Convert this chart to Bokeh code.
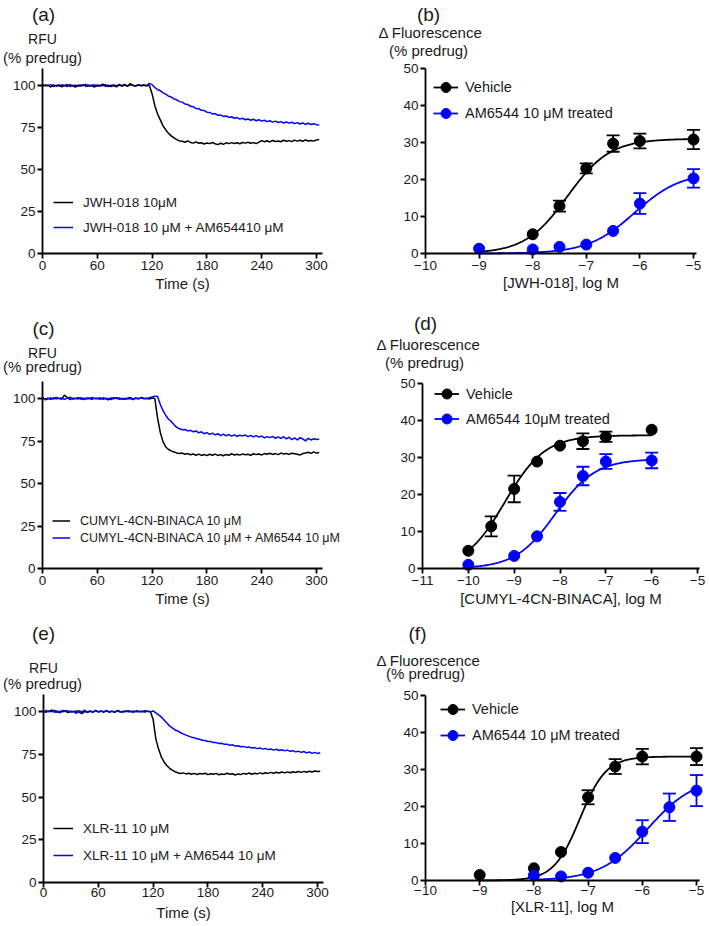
import numpy as np
from bokeh.plotting import figure
from bokeh.models import (Range1d, FixedTicker, Label, Legend, LegendItem, Whisker,
                          TeeHead, ColumnDataSource)
from bokeh.core.properties import value
from bokeh.layouts import column, row
from bokeh.embed import file_html
from bokeh.resources import INLINE

# ------------------------------------------------------------------ data
STEP = 3  # seconds between fluorescence reads

# (a) JWH-018
a_jwh = [100.5, 99.8, 100.2, 99.1, 100.4, 99.6, 100.3, 99.2, 99.9, 100.6,
         99.4, 100.1, 99.0, 100.3, 99.7, 100.5, 99.3, 100.2, 99.8, 99.1,
         100.4, 99.6, 100.9, 99.5, 100.2, 99.4, 100.0, 99.2, 100.3, 99.7,
         100.6, 99.5, 101.2, 100.0, 99.6, 100.4, 99.8, 100.2, 99.9, 100.1,
         95.0, 88.0, 83.0, 79.5, 76.0, 73.5, 71.5, 70.0, 68.8, 67.8, 67.0,
         66.8, 66.2, 67.0, 66.1, 65.7, 66.4, 65.6, 65.9, 65.2, 65.8,
         65.4, 66.1, 65.3, 64.8, 65.6, 65.0, 65.9, 65.4, 66.0, 65.5,
         65.9, 65.3, 66.1, 65.7, 66.2, 65.6, 66.0, 65.4, 66.3, 67.2,
         66.5, 67.1, 66.4, 67.3, 66.7, 67.0, 66.5, 67.4, 66.8, 67.2,
         66.6, 67.5, 66.9, 67.4, 66.8, 67.6, 67.0, 67.3, 66.9, 67.6,
         67.8]
a_jwh_am = [99.6, 100.3, 99.9, 100.5, 99.4, 100.1, 99.7, 100.4, 100.0, 99.3,
            100.6, 99.8, 100.2, 99.5, 100.3, 99.9, 100.7, 99.6, 100.1, 100.4,
            99.5, 100.2, 99.8, 100.5, 99.4, 100.1, 100.3, 99.7, 100.6, 99.9,
            100.2, 99.6, 100.4, 100.1, 99.8, 100.5, 100.0, 100.3, 99.9, 101.3,
            100.5, 98.8, 97.6, 96.9, 95.6, 94.9, 93.6, 93.1, 92.0, 91.5,
            90.4, 90.1, 89.0, 88.7, 87.6, 87.4, 86.3, 86.2, 85.2, 85.1,
            84.1, 84.0, 83.1, 83.3, 82.3, 82.5, 81.6, 81.9, 81.0, 81.4,
            80.5, 80.9, 80.0, 80.5, 79.6, 80.1, 79.3, 79.9, 79.0, 79.6,
            78.8, 79.3, 78.5, 79.0, 78.2, 78.8, 78.0, 78.5, 77.7, 78.3,
            77.6, 78.1, 77.3, 77.9, 77.1, 77.7, 76.9, 77.5, 76.8, 77.2,
            76.7, 76.5]

# (c) CUMYL-4CN-BINACA
c_cumyl = [100.3, 99.7, 100.1, 99.5, 100.4, 99.8, 100.2, 99.6, 102.0, 100.6,
           99.4, 100.2, 99.8, 100.5, 99.6, 100.1, 99.7, 100.3, 99.5, 100.2,
           99.9, 100.4, 99.6, 100.1, 99.2, 100.3, 99.8, 100.5, 99.6, 100.0,
           99.5, 100.2, 100.6, 99.7, 100.1, 99.8, 100.4, 99.9, 100.2, 99.7,
           100.3, 100.0,
           88.5, 80.0, 74.5, 71.5, 70.0, 69.2, 68.5, 68.0, 67.6, 67.9,
           67.2, 67.6, 66.9, 67.4, 66.6, 67.3, 66.5, 67.1, 66.4, 67.2,
           66.6, 67.3, 66.5, 67.0, 66.3, 67.1, 66.6, 67.5, 66.8, 67.2,
           66.7, 67.4, 66.9, 67.2, 66.6, 67.5, 67.0, 67.3, 66.8, 67.6,
           67.2, 67.8, 67.1, 67.6, 67.0, 67.9, 67.3, 67.7, 67.1, 67.8,
           67.5, 67.2, 66.8, 67.6, 67.9, 68.4, 67.7, 68.6, 67.9, 68.2]
c_cumyl_am = [100.6, 99.2, 99.8, 100.4, 99.6, 100.7, 99.9, 100.3, 99.5, 100.1,
              100.8, 99.6, 100.2, 99.7, 100.5, 99.4, 100.3, 99.8, 100.6, 99.9,
              100.2, 99.5, 100.4, 99.8, 100.1, 99.3, 100.5, 99.9, 100.3, 99.6,
              100.2, 99.7, 100.0, 99.4, 100.3, 99.8, 100.6, 100.1, 99.9, 100.5,
              100.9, 101.4, 101.2,
              96.5, 92.8, 90.0, 87.8, 86.5, 84.6, 83.0, 82.2, 81.6, 81.8,
              80.9, 81.3, 80.4, 80.9, 79.8, 80.4, 79.3, 79.9, 78.9, 79.6,
              78.6, 79.3, 78.2, 79.0, 78.0, 78.8, 77.9, 78.6, 77.7, 78.4,
              78.0, 78.5, 77.6, 78.3, 77.4, 78.2, 77.3, 77.9, 76.8, 77.6,
              77.0, 77.7, 76.6, 77.4, 76.5, 77.5, 76.3, 77.2, 75.8, 76.8,
              75.6, 77.0, 76.2, 75.1, 76.6, 75.6, 76.3, 75.9, 76.1]

# (e) XLR-11
e_xlr = [100.2, 99.6, 100.4, 99.9, 100.7, 99.5, 100.1, 99.8, 100.5, 99.3,
         100.2, 99.7, 100.4, 99.6, 98.8, 100.0, 99.7, 100.3, 99.5, 100.6,
         99.9, 100.2, 99.6, 100.4, 99.8, 100.1, 99.5, 100.6, 100.0, 99.7,
         100.3, 99.8, 100.2, 99.6, 100.4, 99.9, 100.1, 99.7, 100.2, 100.0,
         95.5, 84.0, 78.0, 73.5, 70.5, 68.4, 66.8, 65.7, 64.8, 64.2,
         63.7, 64.1, 63.5, 63.9, 63.3, 63.8, 63.2, 63.7, 63.4, 63.9,
         63.1, 63.6, 63.3, 63.8, 63.0, 63.5, 63.2, 63.9, 63.3, 63.6,
         62.9, 63.5, 63.2, 63.8, 63.4, 64.0, 63.3, 63.9, 63.5, 64.1,
         63.6, 64.2, 63.8, 64.4, 63.9, 64.5, 64.0, 64.6, 64.1, 64.7,
         64.2, 64.8, 64.3, 64.9, 64.4, 65.0, 64.5, 65.1, 64.6, 65.2,
         64.9, 65.1]
e_xlr_am = [99.4, 100.6, 99.8, 101.0, 99.5, 100.3, 99.2, 100.7, 99.9, 100.4,
            99.6, 100.2, 98.9, 100.5, 99.7, 100.8, 99.4, 100.1, 99.8, 100.5,
            99.6, 100.3, 99.9, 100.6, 99.5, 100.2, 99.8, 100.4, 99.6, 100.1,
            99.9, 100.5, 99.7, 100.3, 99.8, 100.2, 99.9, 100.4, 100.0, 99.8,
            100.3,
            99.2, 98.0, 96.8, 95.0, 93.3, 91.6, 90.4, 89.2, 88.6, 87.6,
            86.9, 86.2, 85.6, 85.0, 84.7, 84.0, 83.8, 83.2, 83.0, 82.5,
            82.4, 81.9, 81.8, 81.3, 81.4, 80.8, 80.9, 80.3, 80.5, 79.8,
            80.0, 79.4, 79.6, 79.0, 79.3, 78.6, 78.9, 78.3, 78.7, 78.0,
            78.4, 77.7, 78.1, 77.4, 77.9, 77.2, 77.6, 77.0, 77.4, 76.7,
            77.1, 76.4, 76.8, 76.1, 76.6, 75.8, 76.3, 75.5, 76.1, 75.4,
            75.9]

# (b) JWH-018 concentration-response
b_veh_x = [-8, -7.5, -7, -6.5, -6, -5]
b_veh_y = [5.2, 12.8, 23.0, 29.7, 30.4, 30.8]
b_veh_err = [0, 1.5, 1.35, 2.2, 2.0, 2.6]
b_trt_x = [-9, -8, -7.5, -7, -6.5, -6, -5]
b_trt_y = [1.3, 1.1, 1.8, 2.4, 6.1, 13.5, 20.3]
b_trt_err = [0, 0, 0, 0, 0, 2.8, 2.5]
b_veh_fit = [0.0, 31.0, -7.35, 1.1]   # bottom, top, logEC50, Hill slope
b_trt_fit = [0.0, 22.0, -6.1, 1.0]
b_veh_span = [-9, -5]
b_trt_span = [-9, -5]

# (d) CUMYL-4CN-BINACA concentration-response
d_veh_x = [-10, -9.5, -9, -8.5, -8, -7.5, -7, -6]
d_veh_y = [4.8, 11.4, 21.5, 28.9, 33.2, 34.4, 35.6, 37.5]
d_veh_err = [0, 2.7, 3.6, 0, 0, 2.1, 1.4, 0]
d_trt_x = [-10, -9, -8.5, -8, -7.5, -7, -6]
d_trt_y = [1.0, 3.4, 8.7, 18.0, 25.0, 28.9, 29.2]
d_trt_err = [0, 0, 0, 2.4, 2.5, 2.0, 2.1]
d_veh_fit = [0.0, 36.0, -9.2, 1.0]
d_trt_fit = [0.0, 29.6, -8.1, 1.0]
d_veh_span = [-10, -6]
d_trt_span = [-10, -6]

# (f) XLR-11 concentration-response
f_veh_x = [-9, -8, -7.5, -7, -6.5, -6, -5]
f_veh_y = [1.5, 3.3, 7.7, 22.5, 30.8, 33.5, 33.5]
f_veh_err = [0, 0, 0, 1.9, 2.0, 2.1, 2.3]
f_trt_x = [-8, -7.5, -7, -6.5, -6, -5.5, -5]
f_trt_y = [1.35, 1.1, 2.1, 6.1, 13.2, 19.8, 24.3]
f_trt_err = [0, 0, 0, 0, 3.1, 3.7, 4.2]
f_veh_fit = [0.0, 33.5, -7.15, 1.8]
f_trt_fit = [0.0, 28.0, -5.9, 1.0]
f_veh_span = [-9, -5]
f_trt_span = [-8, -5]

time_ticks = [0, 60, 120, 180, 240, 300]
rfu_ticks = [0, 25, 50, 75, 100]
dr_yticks = [0, 10, 20, 30, 40, 50]
b_xticks = [-10, -9, -8, -7, -6, -5]
d_xticks = [-11, -10, -9, -8, -7, -6, -5]
f_xticks = [-10, -9, -8, -7, -6, -5]

# ------------------------------------------------------------------ style
FONT = "Liberation Sans"
BLUE = "#0000ff"
BLACK = "#000000"
TXT = "#1a1a1a"


def lin(v1, p1, v2, p2):
    k = (v2 - v1) / (p2 - p1)
    return lambda P: v1 + (P - p1) * k


class Panel:
    """A figure whose frame fills the whole canvas; axes sit at fixed data
    positions so that every text stays inside the (unclipped) frame."""

    def __init__(self, left, top, w, h, xmap, ymap, xaxis_at, yaxis_at,
                 xbounds, ybounds, xticks, yticks, xlabel, so, minus=False):
        self.fx = lin(*xmap)
        self.fy = lin(*ymap)
        self.left, self.top, self.w, self.h = left, top, w, h
        p = figure(width=w, height=h,
                   x_range=Range1d(self.fx(left), self.fx(left + w)),
                   y_range=Range1d(self.fy(top + h), self.fy(top)),
                   min_border_left=0, min_border_right=0, min_border_top=0,
                   min_border_bottom=0, output_backend="svg",
                   toolbar_location=None, title=None)
        p.outline_line_color = None
        p.grid.visible = False
        p.background_fill_color = "white"
        p.border_fill_color = "white"
        xa, ya = p.xaxis[0], p.yaxis[0]
        for ax in (xa, ya):
            ax.axis_line_width = 1.8
            ax.axis_line_color = BLACK
            ax.major_tick_line_width = 1.8
            ax.major_tick_line_color = BLACK
            ax.major_tick_out = 5
            ax.major_tick_in = 0
            ax.minor_tick_line_color = None
            ax.major_label_text_font = FONT
            ax.major_label_text_font_size = "13.5px"
            ax.major_label_text_color = TXT
        xa.fixed_location = xaxis_at
        ya.fixed_location = yaxis_at
        xa.bounds = xbounds
        ya.bounds = ybounds
        xa.ticker = FixedTicker(ticks=xticks)
        ya.ticker = FixedTicker(ticks=yticks)
        ya.major_label_standoff = 2
        xa.major_label_standoff = so[0]
        if minus:
            xa.major_label_overrides = {
                t: ("\u2212" + str(-t)) if t < 0 else str(t) for t in xticks}
        xa.axis_label = xlabel
        xa.axis_label_text_font = FONT
        xa.axis_label_text_font_size = "15px"
        xa.axis_label_text_font_style = "normal"
        xa.axis_label_text_color = TXT
        xa.axis_label_standoff = so[1]
        self.p = p

    def text(self, X, Y, t, size):
        self.p.add_layout(Label(x=self.fx(X), y=self.fy(Y), text=t, text_font=FONT,
                                text_font_size=size, text_align="center",
                                text_baseline="middle", text_color=TXT))

    def legend(self, items, glyph_x, bottom_y, glyph_w, item_h, spacing,
               standoff, size):
        leg = Legend(items=[LegendItem(label=value(t), renderers=r) for t, r in items],
                     location=(glyph_x - self.left, self.top + self.h - bottom_y),
                     padding=0, margin=0, spacing=spacing,
                     glyph_width=glyph_w, glyph_height=item_h, label_height=item_h,
                     label_standoff=standoff, label_text_font=FONT,
                     label_text_font_size=size, label_text_color=TXT,
                     border_line_color=None, background_fill_alpha=0)
        self.p.add_layout(leg)


def time_panel(geom, xmap, ymap, black, blue, black_top, so, texts,
               leg_labels, leg_xy, leg_gw, leg_h, leg_sp, leg_font):
    P = Panel(*geom, xmap, ymap, 0, 0, (0, 306.5), (0, 110), time_ticks,
              rfu_ticks, "Time (s)", so)
    p = P.p
    tb = np.arange(len(black)) * STEP
    tu = np.arange(len(blue)) * STEP
    if black_top:
        ru = p.line(tu, blue, line_color=BLUE, line_width=1.5)
        rk = p.line(tb, black, line_color=BLACK, line_width=1.5)
    else:
        rk = p.line(tb, black, line_color=BLACK, line_width=1.5)
        ru = p.line(tu, blue, line_color=BLUE, line_width=1.5)
    for t in texts:
        P.text(*t)
    P.legend([(leg_labels[0], [rk]), (leg_labels[1], [ru])], leg_xy[0], leg_xy[1],
             leg_gw, leg_h, leg_sp, 10, leg_font)
    return p


def hill(fit, span):
    xx = np.linspace(span[0], span[1], 240)
    return xx, fit[0] + (fit[1] - fit[0]) / (1 + 10 ** ((fit[2] - xx) * fit[3]))


def dose_panel(geom, xmap, ymap, xticks, series, xlabel, so, texts,
               leg_labels, leg_xy, leg_h, leg_font):
    P = Panel(*geom, xmap, ymap, 0, xticks[0], (xticks[0], -4.95), (0, 50),
              xticks, dr_yticks, xlabel, so, minus=True)
    p = P.p
    rends = []
    for (x, y, e, fit, span, color) in series:
        xx, yy = hill(fit, span)
        ln = p.line(xx, yy, line_color=color, line_width=1.8)
        keep = [i for i, ev in enumerate(e) if ev > 0]
        src = ColumnDataSource(dict(x=[x[i] for i in keep],
                                    lo=[y[i] - e[i] for i in keep],
                                    hi=[y[i] + e[i] for i in keep]))
        p.add_layout(Whisker(source=src, base="x", upper="hi", lower="lo",
                             dimension="height", line_color=color, line_width=1.8,
                             upper_head=TeeHead(size=13, line_color=color, line_width=1.8),
                             lower_head=TeeHead(size=13, line_color=color, line_width=1.8)))
        sc = p.scatter(x, y, size=11, marker="circle", fill_color=color,
                       line_color=color)
        rends.append([ln, sc])
    for t in texts:
        P.text(*t)
    P.legend([(leg_labels[0], rends[0]), (leg_labels[1], rends[1])],
             leg_xy[0], leg_xy[1], 25, leg_h, 0, 7, leg_font)
    return p


# ------------------------------------------------------------------ panels
# geometry: (left, top, width, height) of each canvas on the page,
# axis maps: (value, pixel, value, pixel)
pa = time_panel((0, 0, 340, 300), (0, 42, 300, 316), (0, 253, 100, 85),
                a_jwh, a_jwh_am, True, (2, 2),
                [(43, 14, "(a)", "19px"), (42, 38, "RFU", "14px"),
                 (42, 57, "(% predrug)", "15px")],
                ["JWH-018 10\u03bcM", "JWH-018 10 \u03bcM + AM654410 \u03bcM"],
                (53, 237), 20, 20, 5, "13.5px")

pb = dose_panel((340, 0, 369, 300), (-10, 425, -5, 693), (0, 253, 50, 68),
                b_xticks,
                [(b_veh_x, b_veh_y, b_veh_err, b_veh_fit, b_veh_span, BLACK),
                 (b_trt_x, b_trt_y, b_trt_err, b_trt_fit, b_trt_span, BLUE)],
                "[JWH-018], log M", (2, 1),
                [(428, 14, "(b)", "19px"), (430, 32, "\u0394 Fluorescence", "15px"),
                 (428, 50, "(% predrug)", "15px")],
                ["Vehicle", "AM6544 10 \u03bcM treated"], (433, 126), 26, "14.5px")

pc = time_panel((0, 300, 368, 310), (0, 42, 300, 316), (0, 568, 100, 398),
                c_cumyl, c_cumyl_am, False, (2, 2),
                [(43, 328, "(c)", "19px"), (42, 352, "RFU", "14px"),
                 (42, 366, "(% predrug)", "15px")],
                ["CUMYL-4CN-BINACA 10 \u03bcM",
                 "CUMYL-4CN-BINACA 10 \u03bcM + AM6544 10 \u03bcM"],
                (52, 546), 18, 17, 0, "12.5px")

pd_ = dose_panel((368, 300, 341, 310), (-11, 422, -5, 697), (0, 568, 50, 383),
                 d_xticks,
                 [(d_veh_x, d_veh_y, d_veh_err, d_veh_fit, d_veh_span, BLACK),
                  (d_trt_x, d_trt_y, d_trt_err, d_trt_fit, d_trt_span, BLUE)],
                 "[CUMYL-4CN-BINACA], log M", (2, 2),
                 [(425, 323, "(d)", "19px"), (428, 344, "\u0394 Fluorescence", "15px"),
                  (424, 362, "(% predrug)", "15px")],
                 ["Vehicle", "AM6544 10\u03bcM treated"], (434, 431), 25, "14.5px")

pe = time_panel((0, 610, 340, 316), (0, 43, 300, 317), (0, 882, 100, 711),
                e_xlr, e_xlr_am, False, (0, 4),
                [(43, 633, "(e)", "19px"), (43, 667, "RFU", "14px"),
                 (42, 683, "(% predrug)", "15px")],
                ["XLR-11 10 \u03bcM", "XLR-11 10 \u03bcM + AM6544 10 \u03bcM"],
                (53, 865), 20, 20, 7, "13.5px")

pf = dose_panel((340, 610, 369, 316), (-10, 425, -5, 696), (0, 880, 50, 695),
                f_xticks,
                [(f_veh_x, f_veh_y, f_veh_err, f_veh_fit, f_veh_span, BLACK),
                 (f_trt_x, f_trt_y, f_trt_err, f_trt_fit, f_trt_span, BLUE)],
                "[XLR-11], log M", (0, 0),
                [(417, 633, "(f)", "19px"), (428, 660, "\u0394 Fluorescence", "15px"),
                 (425, 673, "(% predrug)", "15px")],
                ["Vehicle", "AM6544 10 \u03bcM treated"], (440, 748), 26, "14.5px")

layout = column(row(pa, pb), row(pc, pd_), row(pe, pf))

with open("out.html", "w") as fh:
    fh.write(file_html(layout, INLINE, title="Concentration-response figure"))
